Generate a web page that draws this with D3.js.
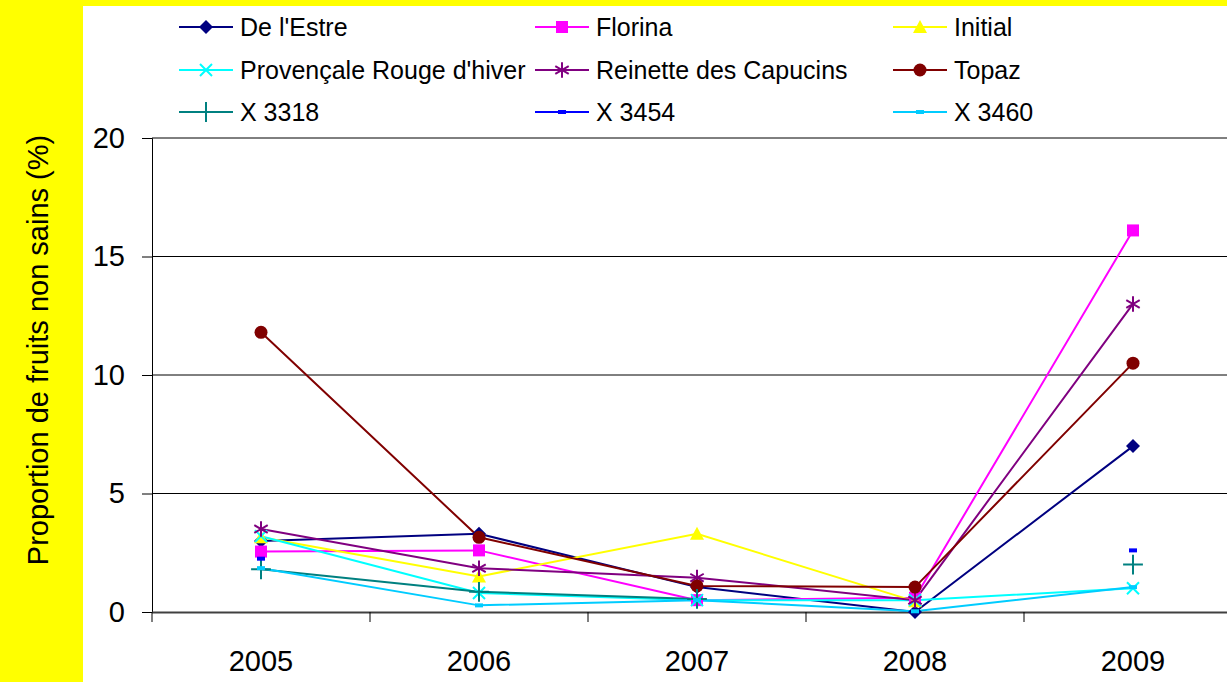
<!DOCTYPE html>
<html>
<head>
<meta charset="utf-8">
<script src="https://cdn.jsdelivr.net/npm/d3@7"></script>
<style>
  body { margin: 0; background: #ffff00; }
  text { font-family: "Liberation Sans", Arial, sans-serif; }
</style>
</head>
<body>
<div class="chartHolder"></div>
<script>
// data
let years = ["2005", "2006", "2007", "2008", "2009"];
let yTicks = [0, 5, 10, 15, 20];
let seriesNames = ["De l'Estre", "Florina", "Initial", "Provençale Rouge d'hiver",
  "Reinette des Capucins", "Topaz", "X 3318", "X 3454", "X 3460"];
let deLEstre = [3.0, 3.3, 1.05, 0.0, 7.0];
let florina = [2.55, 2.6, 0.5, 0.6, 16.1];
let initial = [3.15, 1.5, 3.3, 0.45, null];
let provencale = [3.2, 0.8, 0.5, 0.5, 1.0];
let reinette = [3.5, 1.85, 1.45, 0.5, 13.0];
let topaz = [11.8, 3.15, 1.1, 1.05, 10.5];
let x3318 = [1.8, 0.85, 0.55, null, 2.0];
let x3454 = [2.25, null, null, null, 2.6];
let x3460 = [1.85, 0.28, 0.5, 0.03, 1.05];

let width = 1227,
  height = 682;

let colors = ["#000080", "#ff00ff", "#ffff00", "#00ffff", "#800080", "#800000", "#008080", "#0000ff", "#00ccff"];
let markers = ["diamond", "square", "triangle", "times", "asterisk", "circle", "plus", "dash", "dash"];
let allValues = [deLEstre, florina, initial, provencale, reinette, topaz, x3318, x3454, x3460];

let series = seriesNames.map((name, i) => ({
  name: name,
  color: colors[i],
  marker: markers[i],
  values: allValues[i]
}));

let svg = d3
  .select(".chartHolder")
  .append("svg")
  .attr("width", width)
  .attr("height", height)
  .style("display", "block");

// yellow background + white panel
svg.append("rect").attr("width", width).attr("height", height).attr("fill", "#ffff00");
svg.append("rect").attr("x", 83).attr("y", 6).attr("width", width - 83).attr("height", height - 6).attr("fill", "#fff");

// scales
let xScale = d3.scaleBand().domain(years).range([152, 1242]).paddingInner(0).paddingOuter(0);
let yScale = d3.scaleLinear().domain([0, 20]).range([612, 138]);
let xc = (y) => xScale(y) + xScale.bandwidth() / 2;

// gridlines
svg.append("g")
  .selectAll("line")
  .data(yTicks.filter((t) => t > 0))
  .enter()
  .append("line")
  .attr("x1", 152)
  .attr("x2", width)
  .attr("y1", (d) => yScale(d))
  .attr("y2", (d) => yScale(d))
  .attr("stroke", "#000")
  .attr("stroke-width", 1);

// y axis
let yAxis = d3.axisLeft(yScale).tickValues(yTicks).tickSize(10).tickPadding(17);
let yAxisGroup = svg.append("g").attr("transform", "translate(152,0)").call(yAxis);
yAxisGroup.attr("font-size", null).attr("font-family", null);
yAxisGroup.select(".domain").attr("stroke", "#000");
yAxisGroup.selectAll("text").attr("font-size", 29).attr("fill", "#000");

// x axis: ticks at category boundaries
let xAxisGroup = svg.append("g");
xAxisGroup.append("line")
  .attr("x1", 152).attr("x2", width)
  .attr("y1", yScale(0) + 0.5).attr("y2", yScale(0) + 0.5)
  .attr("stroke", "#404040").attr("stroke-width", 2);
xAxisGroup.selectAll(".tk")
  .data(years)
  .enter()
  .append("line")
  .attr("x1", (d) => xScale(d))
  .attr("x2", (d) => xScale(d))
  .attr("y1", yScale(0))
  .attr("y2", yScale(0) + 10)
  .attr("stroke", "#000");
xAxisGroup.selectAll("text")
  .data(years)
  .enter()
  .append("text")
  .attr("x", (d) => xc(d))
  .attr("y", 671)
  .attr("text-anchor", "middle")
  .attr("font-size", 29)
  .text((d) => d);

// y title
svg.append("text")
  .attr("transform", "translate(48,350) rotate(-90)")
  .attr("text-anchor", "middle")
  .attr("font-size", 29)
  .text("Proportion de fruits non sains (%)");

// marker drawing
function drawMarker(g, type, color) {
  if (type === "diamond") {
    g.append("path").attr("d", "M0,-7L7,0L0,7L-7,0Z").attr("fill", color);
  } else if (type === "square") {
    g.append("rect").attr("x", -6).attr("y", -6).attr("width", 12).attr("height", 12).attr("fill", color);
  } else if (type === "triangle") {
    g.append("path").attr("d", "M0,-7L7,6L-7,6Z").attr("fill", color);
  } else if (type === "circle") {
    g.append("circle").attr("r", 6.5).attr("fill", color);
  } else if (type === "times") {
    g.append("path").attr("d", "M-6,-6L6,6M-6,6L6,-6").attr("stroke", color).attr("stroke-width", 2).attr("fill", "none");
  } else if (type === "asterisk") {
    g.append("path").attr("d", d3.symbol(d3.symbolAsterisk, 170)()).attr("stroke", color).attr("stroke-width", 2).attr("fill", "none");
  } else if (type === "plus") {
    g.append("path").attr("d", d3.symbol(d3.symbolPlus, 130)()).attr("stroke", color).attr("stroke-width", 2).attr("fill", "none");
  } else if (type === "dash") {
    g.append("rect").attr("x", -4).attr("y", -2).attr("width", 8).attr("height", 4).attr("fill", color);
  }
}

let line = d3.line()
  .defined((d) => d.v !== null)
  .x((d) => xc(d.year))
  .y((d) => yScale(d.v));

// series
series.forEach((s) => {
  let pts = s.values.map((v, i) => ({ year: years[i], v: v }));
  svg.append("path")
    .datum(pts)
    .attr("d", line)
    .attr("fill", "none")
    .attr("stroke", s.color)
    .attr("stroke-width", 2);
});
series.forEach((s) => {
  s.values.forEach((v, i) => {
    if (v === null) return;
    let g = svg.append("g").attr("transform", `translate(${xc(years[i])},${yScale(v)})`);
    drawMarker(g, s.marker, s.color);
  });
});

// legend, 3 columns
let legendX = [179, 535, 893];
let legendY = [27, 70, 112];
series.forEach((s, i) => {
  let lx = legendX[i % 3],
    ly = legendY[Math.floor(i / 3)];
  let g = svg.append("g").attr("transform", `translate(${lx},${ly})`);
  g.append("line").attr("x1", 0).attr("x2", 54).attr("stroke", s.color).attr("stroke-width", 2);
  let m = g.append("g").attr("transform", "translate(27,0)");
  drawMarker(m, s.marker, s.color);
  g.append("text")
    .attr("x", 61)
    .attr("y", 9)
    .attr("font-size", 25)
    .text(s.name);
});
</script>
</body>
</html>
